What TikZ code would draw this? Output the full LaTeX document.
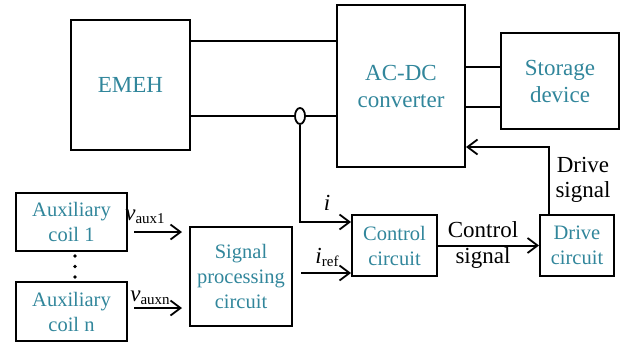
\documentclass[tikz,border=0pt]{standalone}
\usepackage{fontspec}
\setmainfont{Liberation Serif}
\usetikzlibrary{arrows.meta,shapes.geometric}
\definecolor{tealtxt}{RGB}{49,134,155}
\begin{document}
\begin{tikzpicture}[x=1pt,y=-1pt,
 box/.style={draw, line width=2pt, rectangle, inner sep=0pt, align=center, text=tealtxt},
 big/.style={font=\fontsize{23}{27}\selectfont},
 small/.style={font=\fontsize{20.5}{25}\selectfont},
 conn/.style={line width=2pt},
 arr/.style={conn, -{Straight Barb[length=10pt,width=15pt,line width=1.8pt]}},
 lbl/.style={font=\fontsize{23}{25.5}\selectfont, align=center, inner sep=0pt},
 dotn/.style={circle, fill, inner sep=0pt, minimum size=3.6pt}]
\useasboundingbox (0,0) rectangle (628,345);
% boxes
\node[box,big,minimum width=119pt,minimum height=130pt] (emeh) at (130.5,85) {EMEH};
\node[box,big,minimum width=128pt,minimum height=162pt] (acdc) at (401,86) {AC-DC\\converter};
\node[box,big,minimum width=118pt,minimum height=96pt] (stor) at (560,81) {Storage\\device};
\node[box,small,minimum width=111pt,minimum height=58pt] (aux1) at (71.5,222) {Auxiliary\\coil 1};
\node[box,small,minimum width=111pt,minimum height=59pt] (auxn) at (71.5,311.5) {Auxiliary\\coil n};
\node[box,small,minimum width=102pt,minimum height=99pt] (sig) at (241,276.5) {Signal\\processing\\circuit};
\node[box,small,minimum width=85pt,minimum height=61pt] (ctrl) at (394.5,245.5) {Control\\circuit};
\node[box,small,minimum width=74pt,minimum height=61pt] (drv) at (577,245.5) {Drive\\circuit};
% dots
\node[dotn] (d1) at (75,256) {};
\node[dotn] (d2) at (75,266.5) {};
\node[dotn] (d3) at (75,277) {};
% coordinates
\coordinate (y41) at (0,41);
\coordinate (y67) at (0,67);
\coordinate (y107) at (0,107);
\coordinate (y147) at (0,147);
\coordinate (y222) at (0,222);
\coordinate (y232) at (0,232);
\coordinate (y273) at (0,273);
\coordinate (y308) at (0,308);
\coordinate (x549) at (549,0);
% sensor
\node[draw, ellipse, line width=1.8pt, minimum width=10pt, minimum height=16pt, inner sep=0pt] (sensor) at (300,116) {};
% connectors
\draw[conn] (emeh.east |- y41) -- (acdc.west |- y41);
\draw[conn] (emeh.east |- sensor) -- (sensor.west);
\draw[conn] (sensor.east) -- (acdc.west |- sensor);
\draw[conn] (acdc.east |- y67) -- (stor.west |- y67);
\draw[conn] (acdc.east |- y107) -- (stor.west |- y107);
\draw[arr] (sensor.south) |- (ctrl.west |- y222);
\draw[arr, shorten <=8pt] (sig.east |- y273) -- (ctrl.west |- y273);
\draw[arr, shorten <=6pt, shorten >=7pt] (aux1.east |- y232) -- (sig.west |- y232);
\draw[arr, shorten <=6pt, shorten >=7pt] (auxn.east |- y308) -- (sig.west |- y308);
\draw[arr] (ctrl.east) -- (drv.west);
\draw[arr] (drv.north -| x549) |- (acdc.east |- y147);
% labels
\node[lbl] (li) at (327,203) {\itshape i};
\node[lbl] (liref) at (327,257) {\itshape i\upshape\fontsize{15}{15}\selectfont\raisebox{-3pt}{ref}};
\node[lbl] (lv1) at (145,217) {\itshape v\upshape\fontsize{15}{15}\selectfont\raisebox{-3pt}{aux1}};
\node[lbl] (lvn) at (150,298) {\itshape v\upshape\fontsize{15}{15}\selectfont\raisebox{-3pt}{auxn}};
\node[lbl] (lcs) at (483,245) {Control\\signal};
\node[lbl] (lds) at (583,180) {Drive\\signal};
\end{tikzpicture}
\end{document}
